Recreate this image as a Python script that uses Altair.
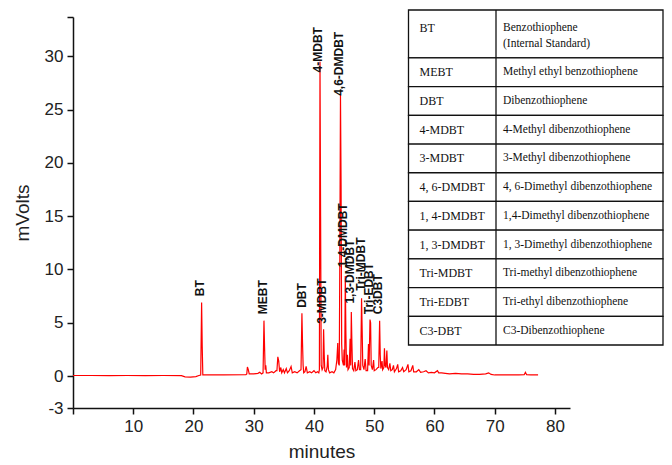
import altair as alt
import pandas as pd

# ---------------- chromatogram trace (minutes, mVolts) ----------------
trace_min = [
    0.0, 3.0, 6.0, 9.0, 12.0, 15.0, 18.0, 18.6, 19.5, 20.4, 20.9,
    21.2, 21.35, 21.45, 21.55, 22.0, 25.0, 28.7,
    28.85, 28.95, 29.1, 29.25, 30.0, 30.7, 31.0, 31.3,
    31.55, 31.7, 31.8, 31.9, 32.0, 32.1, 32.5, 33.0, 33.3, 33.7,
    33.85, 34.0, 34.15, 34.3, 34.5, 34.65, 34.9, 35.1, 35.4, 35.6, 35.9, 36.2, 36.4, 36.8, 37.2, 37.6,
    37.85, 38.0, 38.1, 38.2, 38.3, 38.5, 38.7, 38.9, 39.3, 39.6, 40.0, 40.3, 40.6, 40.8,
    40.9, 41.0, 41.1, 41.2, 41.35,
    41.5, 41.6, 41.7, 41.8, 42.0, 42.2, 42.3, 42.4, 42.6, 43.0, 43.3, 43.6,
    43.8, 43.95, 44.05,
    44.2, 44.3, 44.4, 44.5, 44.6, 44.7,
    44.9, 45.0, 45.1, 45.2, 45.3, 45.4, 45.55, 45.65,
    45.85, 46.0, 46.1, 46.2, 46.3, 46.4, 46.6, 46.8, 46.95, 47.2, 47.4, 47.55,
    47.75, 47.9, 48.0, 48.1, 48.3, 48.5, 48.65, 48.9, 49.05,
    49.15, 49.3, 49.4, 49.5, 49.7, 49.9, 50.0, 50.3, 50.6,
    50.75, 50.9, 51.0, 51.1, 51.3, 51.4,
    51.6, 51.7, 51.8, 51.95, 52.1, 52.2, 52.4, 52.6, 52.75, 53.0, 53.2, 53.35, 53.7, 53.9, 54.05,
    54.4, 54.7, 54.9, 55.3, 55.6, 55.75, 56.1, 56.4, 56.55, 57.0, 57.4, 57.7, 58.2, 58.6, 59.0,
    59.5, 60.0, 60.5, 60.7, 61.2, 61.8, 62.5, 63.5, 64.5, 65.5, 66.5, 67.5, 68.5, 69.0, 69.4,
    70.0, 71.0, 72.5, 74.0, 74.9, 75.1, 75.3, 76.0, 77.2,
]
trace_mv = [
    0.05, 0.05, 0.03, 0.05, 0.04, 0.05, 0.03, -0.08, -0.1, -0.05, 0.05,
    0.1, 6.9, 2.8, 0.1, 0.1, 0.1, 0.12,
    0.2, 0.85, 0.6, 0.2, 0.2, 0.25, 0.35, 0.2,
    0.3, 5.2, 2.7, 0.6, 1.0, 0.3, 0.3, 0.4, 0.3, 0.5,
    0.5, 1.8, 1.4, 0.4, 0.8, 0.3, 0.6, 0.3, 0.7, 0.3, 0.5, 0.9, 0.3, 0.4, 0.3, 0.5,
    0.6, 5.9, 3.1, 1.0, 0.3, 0.4, 0.9, 0.3, 0.4, 0.3, 0.5, 0.3, 0.4, 0.3,
    0.6, 29.5, 15.0, 1.0, 0.6,
    0.8, 4.4, 2.0, 0.5, 0.4, 0.9, 2.0, 0.6, 0.3, 0.4, 0.3, 0.6,
    1.5, 3.1, 1.2,
    1.0, 12.0, 26.4, 18.0, 3.0, 1.5,
    1.0, 2.5, 1.0, 9.4, 4.0, 0.8, 2.0, 0.6,
    0.8, 3.5, 1.0, 6.0, 3.0, 0.7, 0.5, 1.3, 0.5, 0.6, 1.5, 0.6,
    0.6, 7.3, 4.3, 1.0, 0.6, 1.6, 0.5, 0.5, 3.0,
    1.0, 5.3, 5.0, 1.0, 0.6, 1.5, 0.5, 0.6, 0.8,
    0.8, 5.2, 2.0, 0.7, 1.4, 0.6,
    0.8, 2.6, 1.0, 0.8, 2.4, 0.8, 0.6, 1.2, 0.5, 0.6, 1.0, 0.4, 0.7, 1.1, 0.4,
    0.5, 0.8, 0.4, 0.6, 1.1, 0.4, 0.5, 1.0, 0.4, 0.4, 0.6, 0.35, 0.4, 0.5, 0.3,
    0.35, 0.3, 0.5, 0.3, 0.3, 0.25, 0.2, 0.25, 0.2, 0.2, 0.15, 0.15, 0.2, 0.3, 0.15,
    0.1, 0.1, 0.1, 0.1, 0.12, 0.35, 0.12, 0.1, 0.1,
]

# ---------------- peak labels ----------------
peak_names = ["BT", "MEBT", "DBT", "4-MDBT", "3-MDBT", "4,6-DMDBT",
              "1,4-DMDBT", "1,3-DMDBT", "Tri-MDBT", "Tri-EDBT", "C3DBT"]
peak_label_min = [21.0, 31.6, 38.0, 40.6, 41.4, 44.1, 44.9, 45.9, 47.8, 49.1, 50.7]
peak_label_mv = [7.5, 5.8, 6.4, 28.5, 4.9, 26.3, 10.2, 6.8, 8.0, 5.8, 5.8]

# ---------------- legend table ----------------
table_abbr = ["BT", "MEBT", "DBT", "4-MDBT", "3-MDBT", "4, 6-DMDBT",
              "1, 4-DMDBT", "1, 3-DMDBT", "Tri-MDBT", "Tri-EDBT", "C3-DBT"]
table_name = ["Benzothiophene\n(Internal Standard)", "Methyl ethyl benzothiophene",
              "Dibenzothiophene", "4-Methyl dibenzothiophene", "3-Methyl dibenzothiophene",
              "4, 6-Dimethyl dibenzothiophene", "1,4-Dimethyl dibenzothiophene",
              "1, 3-Dimethyl dibenzothiophene", "Tri-methyl dibenzothiophene",
              "Tri-ethyl dibenzothiophene", "C3-Dibenzothiophene"]

# ---------------- axes ----------------
x_ticks = [0, 10, 20, 30, 40, 50, 60, 70, 80]
y_ticks = [-3, 0, 5, 10, 15, 20, 25, 30]
x_domain = [0, 82.5]
y_domain = [-3, 33.7]

trace = pd.DataFrame({"t": trace_min, "v": trace_mv})
labels = pd.DataFrame({"t": peak_label_min, "v": peak_label_mv, "name": peak_names})

# table layout (row units; the two-line row is taller)
rows = []
top = 0.0
for a, n in zip(table_abbr, table_name):
    nl = n.count("\n") + 1
    h = 1.67 if nl > 1 else 1.0
    first = top + (0.63 if nl > 1 else 0.5)
    rows.append(dict(abbr=a, name=n, top=top, bot=top + h, first=first))
    top += h
table = pd.DataFrame(rows)
total_units = top

FONT = "Liberation Sans"
SERIF = "Liberation Serif"

xscale = alt.Scale(domain=x_domain, nice=False, zero=False)
yscale = alt.Scale(domain=y_domain, nice=False, zero=False)

line = alt.Chart(trace).mark_line(color="#ff0000", strokeWidth=1.2).encode(
    x=alt.X("t:Q", scale=xscale, axis=alt.Axis(
        values=x_ticks, labelExpr="datum.value == 0 ? '' : datum.label",
        title="minutes", grid=False, tickSize=6, labelFontSize=17, titleFontSize=19,
        labelFont=FONT, titleFont=FONT, titleFontWeight="normal",
        domainColor="#111", tickColor="#111", domainWidth=1.5, tickWidth=1.5,
        labelColor="#222", titleColor="#222", labelPadding=4, titlePadding=8,
        labelFlush=False)),
    y=alt.Y("v:Q", scale=yscale, axis=alt.Axis(
        values=y_ticks + [y_domain[1]],
        labelExpr="datum.value > 31 ? '' : replace(datum.label, '\u2212', '-')",
        title="mVolts", grid=False, tickSize=6, labelFontSize=17, titleFontSize=19,
        labelFont=FONT, titleFont=FONT, titleFontWeight="normal",
        domainColor="#111", tickColor="#111", domainWidth=1.5, tickWidth=1.5,
        labelColor="#222", titleColor="#222", labelPadding=4, titlePadding=12,
        labelFlush=False)),
    order="t:Q",
)

peak_text = alt.Chart(labels).mark_text(
    angle=270, align="left", baseline="middle", fontSize=12, fontWeight="bold",
    font=FONT, color="#111"
).encode(
    x=alt.X("t:Q", scale=xscale),
    y=alt.Y("v:Q", scale=yscale),
    text="name:N",
)

main = alt.layer(line, peak_text)

# table geometry relative to the plot origin (pixels)
T_LEFT, T_DIV, T_RIGHT = 335.5, 423.0, 590.0
T_TOP, T_BOT = -7.0, 328.0
tscale = alt.Scale(domain=[0, total_units], range=[T_TOP, T_BOT], nice=False, zero=False)

cells = alt.Chart(table).mark_rect(fill="white", stroke="#111", strokeWidth=1.3).encode(
    x=alt.value(T_LEFT), x2=alt.value(T_RIGHT),
    y=alt.Y("top:Q", scale=tscale, axis=None), y2="bot:Q",
)
divider = alt.Chart(table).mark_rule(color="#111", strokeWidth=1.3).encode(
    x=alt.value(T_DIV),
    y=alt.Y("top:Q", scale=tscale, axis=None), y2="bot:Q",
)
abbr_text = alt.Chart(table).mark_text(
    align="left", baseline="middle", font=SERIF, fontSize=12, color="#111"
).encode(
    x=alt.value(T_LEFT + 11),
    y=alt.Y("first:Q", scale=tscale, axis=None),
    text="abbr:N",
)
name_text = alt.Chart(table).mark_text(
    align="left", baseline="middle", font=SERIF, fontSize=11.5, color="#111",
    lineBreak="\n", lineHeight=16
).encode(
    x=alt.value(T_DIV + 7),
    y=alt.Y("first:Q", scale=tscale, axis=None),
    text="name:N",
)
legend_table = alt.layer(cells, divider, abbr_text, name_text)

chart = alt.layer(main, legend_table).resolve_scale(y="independent").properties(
    width=497, height=391,
    padding={"left": 65, "top": 9, "right": 94, "bottom": 55},
    autosize=alt.AutoSizeParams(type="none"),
    background="white",
).configure_view(stroke=None)

chart.save("out.html", embed_options={"renderer": "svg", "actions": False})
